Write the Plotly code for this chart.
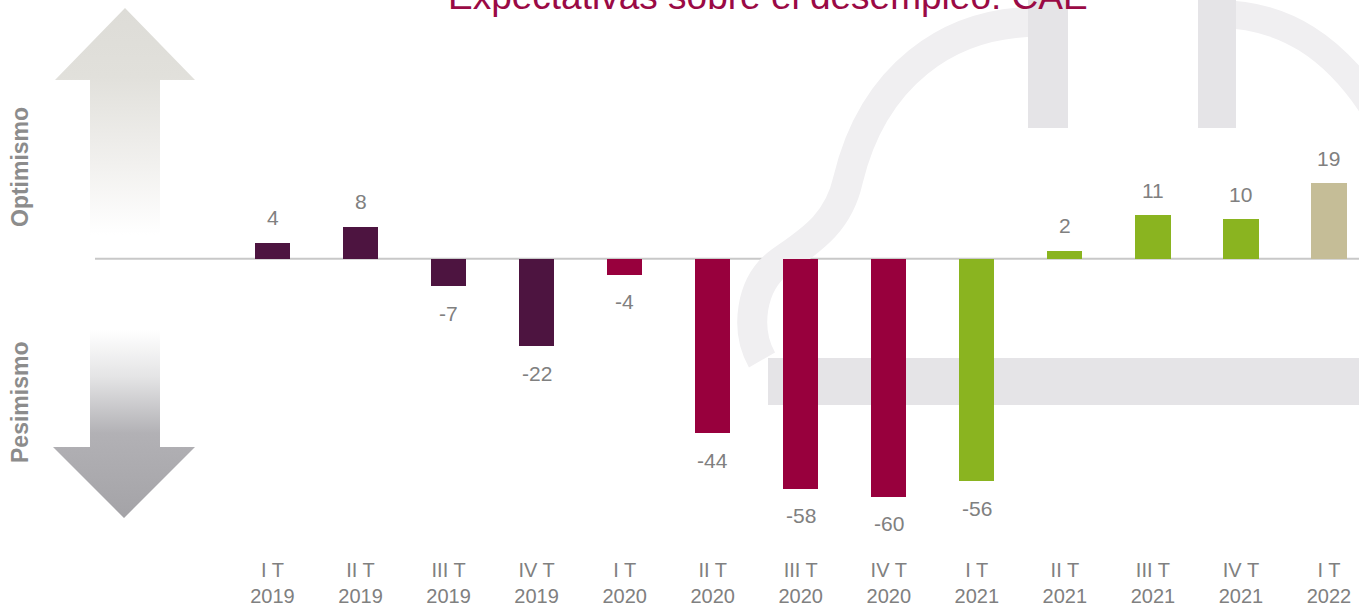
import plotly.graph_objects as go

# ---- data ----
quarters = ["I T", "II T", "III T", "IV T", "I T", "II T", "III T", "IV T",
            "I T", "II T", "III T", "IV T", "I T"]
years = ["2019", "2019", "2019", "2019", "2020", "2020", "2020", "2020",
         "2021", "2021", "2021", "2021", "2022"]
values = [4, 8, -7, -22, -4, -44, -58, -60, -56, 2, 11, 10, 19]
year_colors = {"2019": "#4D1440", "2020": "#98003D", "2021": "#8AB420", "2022": "#C5BD97"}

title_text = "Expectativas sobre el desempleo: CAE"

W, H = 1359, 606
B = 50
PH = H - B  # plot height in px

# overlay axis mapping (bars)
x0_px, step_px = 272.5, 88.04
zero_px, ppu = 258.7, 3.97
x2_range = [-x0_px / step_px, (W - x0_px) / step_px]
y2_range = [-(PH - zero_px) / ppu, zero_px / ppu]

FONT = "Arial, Liberation Sans, sans-serif"
GRAY = "#808080"

fig = go.Figure()

# ---- decorative arrows (base pixel axes, y reversed) ----
fig.add_trace(go.Scatter(
    x=[125, 195, 160, 160, 90, 90, 55, 125],
    y=[8, 80, 80, 235, 235, 80, 80, 8],
    mode="lines", line=dict(width=0), fill="toself",
    fillgradient=dict(type="vertical",
                      colorscale=[[0, "#FFFFFF"], [0.3, "#F2F1EF"], [0.7, "#E1E0DB"], [1, "#DDDCD7"]]),
    hoverinfo="skip", showlegend=False, xaxis="x", yaxis="y"))
fig.add_trace(go.Scatter(
    x=[90, 160, 160, 195, 124, 53, 90, 90],
    y=[330, 330, 447, 447, 518, 447, 447, 330],
    mode="lines", line=dict(width=0), fill="toself",
    fillgradient=dict(type="vertical",
                      colorscale=[[0, "#A4A3A7"], [0.45, "#B2B1B5"], [0.75, "#E4E4E5"], [1, "#FFFFFF"]]),
    hoverinfo="skip", showlegend=False, xaxis="x", yaxis="y"))

# ---- bars (overlay axes) ----
bar_colors = [year_colors[y] for y in years]
xs = list(range(len(values)))
fig.add_trace(go.Bar(
    x=xs, y=values, width=0.4, marker=dict(color=bar_colors, line=dict(width=0)),
    hoverinfo="skip", showlegend=False, xaxis="x2", yaxis="y2"))

annotations = []
for i, v in enumerate(values):
    annotations.append(dict(
        x=i, y=v, xref="x2", yref="y2", text=str(v), showarrow=False,
        yanchor="middle", xanchor="center", yshift=25 if v >= 0 else -27,
        font=dict(family=FONT, size=21, color=GRAY)))

annotations.append(dict(
    x=767.5 / W, y=1 + 3.5 / PH, xref="paper", yref="paper", text=title_text,
    showarrow=False, xanchor="center", yanchor="middle",
    font=dict(family=FONT, size=37, color="#9A0A45")))
annotations.append(dict(
    x=20 / W, y=1 - 167 / PH, xref="paper", yref="paper", text="<b>Optimismo</b>",
    showarrow=False, textangle=-90, xanchor="center", yanchor="middle",
    font=dict(family=FONT, size=23, color="#8C8C8C")))
annotations.append(dict(
    x=20 / W, y=1 - 403 / PH, xref="paper", yref="paper", text="<b>Pesimismo</b>",
    showarrow=False, textangle=-90, xanchor="center", yanchor="middle",
    font=dict(family=FONT, size=23, color="#8C8C8C")))

WM = "#E5E4E7"
WM_LIGHT = "#F0EFF1"
shapes = [
    # watermark
    dict(type="path", xref="x", yref="y", layer="below",
         path="M 1048,22 C 945,18 872,80 848,180 C 838,225 808,242 780,262 C 750,284 745,330 762,360",
         line=dict(color=WM_LIGHT, width=30), fillcolor="rgba(0,0,0,0)"),
    dict(type="path", xref="x", yref="y", layer="below",
         path="M 1217,14 C 1285,14 1335,48 1375,110",
         line=dict(color=WM_LIGHT, width=28), fillcolor="rgba(0,0,0,0)"),
    dict(type="rect", xref="x", yref="y", layer="below", x0=1028, x1=1068, y0=-5, y1=128,
         line=dict(width=0), fillcolor=WM),
    dict(type="rect", xref="x", yref="y", layer="below", x0=1198, x1=1236, y0=-5, y1=128,
         line=dict(width=0), fillcolor=WM),
    dict(type="rect", xref="x", yref="y", layer="below", x0=768, x1=1375, y0=358, y1=405,
         line=dict(width=0), fillcolor=WM),
    # baseline
    dict(type="line", xref="x", yref="y2", layer="below", x0=95, x1=W, y0=0, y1=0,
         line=dict(color="#C8C8C8", width=2)),
]

fig.update_layout(
    width=W, height=H,
    margin=dict(l=0, r=0, t=0, b=B),
    paper_bgcolor="white", plot_bgcolor="rgba(0,0,0,0)",
    xaxis=dict(range=[0, W], visible=False, fixedrange=True),
    yaxis=dict(range=[PH, 0], visible=False, fixedrange=True),
    xaxis2=dict(range=x2_range, overlaying="x", anchor="y2", side="bottom",
                tickmode="array", tickvals=xs,
                ticktext=[f"{q}<br>{y}" for q, y in zip(quarters, years)],
                showgrid=False, zeroline=False, showline=False, ticks="",
                tickfont=dict(family=FONT, size=20, color=GRAY)),
    yaxis2=dict(range=y2_range, overlaying="y", anchor="x2", visible=False),
    annotations=annotations,
    shapes=shapes,
    showlegend=False,
    bargap=0,
)

fig.write_html(
    "out.html",
    config={"displayModeBar": False},
    post_script="document.body.style.margin='0';document.body.style.overflow='hidden';",
)
